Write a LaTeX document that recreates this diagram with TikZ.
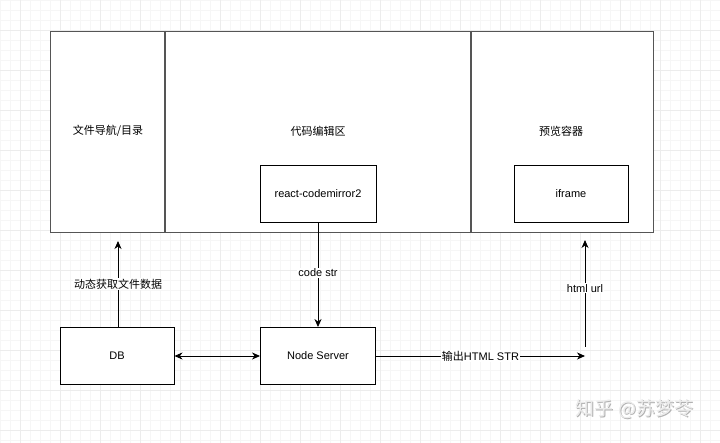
\documentclass[tikz,border=0pt]{standalone}
\usepackage{fontspec}
\setmainfont{Liberation Sans}
\newfontfamily\cjk{Noto Sans CJK SC}
\usetikzlibrary{arrows.meta}
\definecolor{gridminor}{HTML}{F6F6F6}
\definecolor{gridmajor}{HTML}{ECECEC}
\definecolor{outerline}{HTML}{555555}
\tikzset{
  box/.style={draw=black, line width=0.9pt, fill=white, inner sep=0pt},
  conn/.style={draw=black, line width=0.9pt, -{Stealth[length=8pt,width=7pt,inset=2.5pt]}},
  lbl/.style={fill=white, inner sep=1pt, font=\fontsize{11}{13}\selectfont},
  txt/.style={font=\fontsize{11}{13}\selectfont},
}
\begin{document}
\begin{tikzpicture}[x=1pt,y=-1pt]
\useasboundingbox (0,0) rectangle (720,443);
\fill[white] (0,0) rectangle (720,443);
\foreach \i in {0,10,...,720} \draw[gridminor, line width=0.5pt] (\i,0) -- (\i,443);
\foreach \j in {0,10,...,440} \draw[gridminor, line width=0.5pt] (0,\j) -- (720,\j);
\foreach \i in {20,60,...,720} \draw[gridmajor, line width=0.5pt] (\i,0) -- (\i,443);
\foreach \j in {30,70,...,440} \draw[gridmajor, line width=0.5pt] (0,\j) -- (720,\j);

% outer container
\node[draw=outerline, line width=1.4pt, fill=white, minimum width=603pt, minimum height=201pt, anchor=north west] (outer) at (50,31) {};
\draw[outerline, line width=1.4pt] (165,31) -- (165,232);
\draw[outerline, line width=1.4pt] (471,31) -- (471,232);
\node[txt] (nav) at (108,131) {\cjk 文件导航/目录};
\node[txt] (edit) at (318,131) {\cjk 代码编辑区};
\node[txt] (prev) at (561,131) {\cjk 预览容器};

\node[box, minimum width=116pt, minimum height=57pt, txt] (cm) at (318,193.5) {react-codemirror2};
\node[box, minimum width=114pt, minimum height=57pt, txt] (ifr) at (571,194) {iframe};

\node[box, minimum width=114pt, minimum height=57pt, txt] (db) at (117,356) {DB};
\node[box, minimum width=115pt, minimum height=57pt, txt] (ns) at (318,356) {Node Server};

\coordinate (navin) at (118,241);
\coordinate (previn) at (585,240);
\coordinate (outend) at (585,356);
\coordinate (urlstart) at (585,347);

\draw[conn] (db.north -| navin) -- node[lbl, pos=0.5] {\cjk 动态获取文件数据} (navin);
\draw[conn] (cm.south) -- node[lbl, pos=0.48] {code str} (ns.north);
\draw[draw=black, line width=0.9pt, {Stealth[length=8pt,width=7pt,inset=2.5pt]}-{Stealth[length=8pt,width=7pt,inset=2.5pt]}] (db.east) -- (ns.west);
\draw[conn] (ns.east) -- node[lbl, pos=0.5] {{\cjk 输出}HTML STR} (outend);
\draw[conn] (urlstart) -- node[lbl, pos=0.55] {html url} (previn);

% watermark
\node[font=\cjk\fontsize{19}{21}\selectfont, text=black!30] (wm) at (635.5,410) {知乎 @苏梦苓};
\node[font=\cjk\fontsize{19}{21}\selectfont, text=white!92!black] (wm2) at (634.5,409) {知乎 @苏梦苓};
\end{tikzpicture}
\end{document}
